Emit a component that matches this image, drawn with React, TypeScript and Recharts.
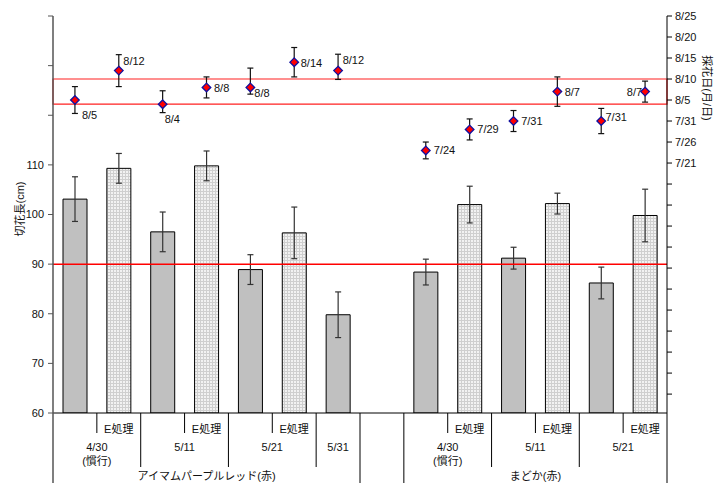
import React from 'react';
import {
  ComposedChart,
  Bar,
  Cell,
  Line,
  XAxis,
  YAxis,
  ErrorBar,
  ReferenceLine,
  ReferenceArea,
  LabelList
} from 'recharts';

// 14 slots on the category axis (slot 7 is the blank gap between varieties)
const slotKeys = ['a1', 'a2', 'a3', 'a4', 'a5', 'a6', 'a7', 'gap', 'b1', 'b2', 'b3', 'b4', 'b5', 'b6'];
const treatments = ['', 'E処理', '', 'E処理', '', 'E処理', '', '', '', 'E処理', '', 'E処理', '', 'E処理'];

const dateGroups = [
  { label: '4/30', note: '(慣行)', start: 0, span: 2 },
  { label: '5/11', note: '', start: 2, span: 2 },
  { label: '5/21', note: '', start: 4, span: 2 },
  { label: '5/31', note: '', start: 6, span: 1 },
  { label: '4/30', note: '(慣行)', start: 8, span: 2 },
  { label: '5/11', note: '', start: 10, span: 2 },
  { label: '5/21', note: '', start: 12, span: 2 }
];
const varieties = [
  { label: 'アイマムパープルレッド(赤)', start: 0, span: 7 },
  { label: 'まどか(赤)', start: 8, span: 6 }
];

// 切花長 (cm) and its error
const cutLength = [103.1, 109.3, 96.5, 109.8, 88.9, 96.3, 79.8, null, 88.4, 102.0, 91.2, 102.2, 86.2, 99.8];
const cutLengthErr = [4.5, 3.0, 4.0, 3.0, 3.0, 5.2, 4.6, null, 2.6, 3.7, 2.2, 2.1, 3.2, 5.3];

// 採花日 and its error in days [earlier, later]
const harvestDates = ['8/5', '8/12', '8/4', '8/8', '8/8', '8/14', '8/12', null, '7/24', '7/29', '7/31', '8/7', '7/31', '8/7'];
const harvestErr = [
  [3.2, 3.2], [3.8, 3.8], [2.0, 3.2], [2.5, 2.5], [1.6, 4.6], [3.5, 3.5], [2.1, 3.9], null,
  [2.0, 2.0], [2.5, 2.5], [2.5, 2.5], [3.5, 3.5], [3.0, 3.0], [2.5, 2.5]
];

const rightTicks = ['5/27', '6/1', '6/6', '6/11', '6/16', '6/21', '6/26', '7/1', '7/6', '7/11', '7/16', '7/21', '7/26', '7/31', '8/5', '8/10', '8/15', '8/20', '8/25'];
const rightMin = '5/22';
const firstShownDate = '7/21';
const targetLength = 90;
const targetRange = ['8/4', '8/10'];

// layout only
const labelOffsets = [
  [7, 15], [4.5, -10], [2, 14.6], [7.5, 1], [4, 6], [6.5, 0.6], [4.6, -10.7], [0, 0],
  [8, 0], [7.7, 0], [7.7, 0], [7.3, 0.6], [4.3, -4], [-3, 0]
];
const dividerLen = [75, 20, 54, 20, 54, 20, 54, 75, 75, 20, 54, 20, 54, 20, 75];

const monthStart = [0, 0, 31, 59, 90, 120, 151, 181, 212, 243, 273, 304, 334];
const toDay = (s: string) => {
  const [m, d] = s.split('/').map(Number);
  return monthStart[m] + d;
};
const fromDay = (n: number) => {
  let m = 12;
  while (monthStart[m] >= n) m--;
  return `${m}/${Math.round(n - monthStart[m])}`;
};

const data = slotKeys.map((k, i) => ({
  slot: k,
  length: cutLength[i],
  lengthErr: cutLengthErr[i],
  harvest: harvestDates[i] ? toDay(harvestDates[i] as string) : null,
  harvestErr: harvestErr[i],
  harvestLabel: harvestDates[i] ?? ''
}));

const FONT = '"Liberation Sans", Arial, "Noto Sans CJK JP", sans-serif';
const TXT = '#111';

const CategoryTick = (props: any) => {
  const { x, y, payload } = props;
  const i: number = props.index ?? payload.index;
  const half: number = payload.offset ?? 21.93;
  const left = x - half;
  const items: React.ReactNode[] = [];
  items.push(
    <line key="d" x1={left} x2={left} y1={y} y2={y + dividerLen[i]} stroke={i === 0 ? '#555' : '#000'} strokeWidth={i === 0 ? 1.5 : 1} />
  );
  if (i === slotKeys.length - 1) {
    items.push(<line key="dr" x1={x + half} x2={x + half} y1={y} y2={y + dividerLen[i + 1]} stroke="#000" />);
  }
  if (treatments[i]) {
    items.push(<text key="t" x={x} y={y + 16} textAnchor="middle" dominantBaseline="central" fontSize={11}>{treatments[i]}</text>);
  }
  dateGroups.filter(g => g.start === i).forEach((g, j) => {
    const cx = left + g.span * half;
    items.push(<text key={'g' + j} x={cx} y={y + 34} textAnchor="middle" dominantBaseline="central" fontSize={11}>{g.label}</text>);
    if (g.note) {
      items.push(<text key={'n' + j} x={cx} y={y + 48} textAnchor="middle" dominantBaseline="central" fontSize={11}>{g.note}</text>);
    }
  });
  varieties.filter(v => v.start === i).forEach((v, j) => {
    items.push(<text key={'v' + j} x={left + v.span * half} y={y + 63} textAnchor="middle" dominantBaseline="central" fontSize={11}>{v.label}</text>);
  });
  return <g fill={TXT} fontFamily={FONT}>{items}</g>;
};

const Diamond = (props: any) => {
  const { cx, cy, index } = props;
  if (cx == null || cy == null || data[index]?.harvest == null) return <g key={'dot' + index} />;
  const r = 4.3;
  return (
    <path
      key={'dot' + index}
      d={`M${cx},${cy - r}L${cx + r},${cy}L${cx},${cy + r}L${cx - r},${cy}Z`}
      fill="#ff0000"
      stroke="#1010a0"
      strokeWidth={1.3}
    />
  );
};

const DateLabel = (props: any) => {
  const { x, y, value, index } = props;
  if (!value || x == null || y == null) return null;
  const [dx, dy] = labelOffsets[index];
  return (
    <text
      x={x + dx}
      y={y + dy}
      textAnchor={dx < 0 ? 'end' : 'start'}
      dominantBaseline="central"
      fontSize={11}
      fontFamily={FONT}
      fill={TXT}
    >
      {value}
    </text>
  );
};

const App: React.FC = () => {
  const rTicks = rightTicks.map(toDay);
  const shownFrom = toDay(firstShownDate);
  return (
    <div style={{ position: 'absolute', left: 0, top: 0, width: 723, height: 483, background: '#fff' }}>
      <ComposedChart
        width={723}
        height={483}
        data={data}
        margin={{ top: 16, right: 0, bottom: 0, left: 0 }}
        barCategoryGap={10}
      >
        <defs>
          <pattern id="dots" width="3" height="3" patternUnits="userSpaceOnUse">
            <rect width="3" height="3" fill="#cfcfcf" />
            <rect width="2" height="2" fill="#f2f2f2" />
          </pattern>
        </defs>
        <XAxis
          dataKey="slot"
          type="category"
          interval={0}
          height={70}
          tickSize={0}
          tickMargin={0}
          tickLine={false}
          axisLine={{ stroke: '#000' }}
          tick={<CategoryTick />}
        />
        <YAxis
          yAxisId="left"
          type="number"
          domain={[60, 140]}
          ticks={[60, 70, 80, 90, 100, 110, 120, 130, 140]}
          width={53}
          tickSize={5}
          tickMargin={4}
          allowDataOverflow
          axisLine={{ stroke: '#555', strokeWidth: 1.5 }}
          tickLine={{ stroke: '#555' }}
          tick={{ fontSize: 11, fill: TXT, fontFamily: FONT }}
          tickFormatter={(v: number) => (v <= 110 ? String(v) : '')}
          label={() => (
            <text
              x={20}
              y={209}
              transform="rotate(-90 20 209)"
              textAnchor="middle"
              dominantBaseline="central"
              fontSize={11}
              fontFamily={FONT}
              style={{ fill: TXT }}
            >
              切花長(cm)
            </text>
          )}
        />
        <YAxis
          yAxisId="right"
          orientation="right"
          type="number"
          domain={[toDay(rightMin) + 0.5, toDay('8/25')]}
          ticks={rTicks}
          width={56}
          tickSize={5}
          tickMargin={3}
          allowDataOverflow
          axisLine={{ stroke: '#000' }}
          tickLine={{ stroke: '#000' }}
          tick={{ fontSize: 11, fill: TXT, fontFamily: FONT, textAnchor: 'start' }}
          tickFormatter={(v: number) => (v >= shownFrom ? fromDay(v) : '')}
          label={() => (
            <text
              x={707}
              y={88}
              transform="rotate(90 707 88)"
              textAnchor="middle"
              dominantBaseline="central"
              fontSize={11}
              fontFamily={FONT}
              style={{ fill: TXT }}
            >
              採花日(月/日)
            </text>
          )}
        />
        <Bar yAxisId="left" dataKey="length" stroke="#000" strokeWidth={1} isAnimationActive={false}>
          {data.map((d, i) => (
            <Cell key={d.slot} fill={treatments[i] ? 'url(#dots)' : '#c0c0c0'} />
          ))}
          <ErrorBar dataKey="lengthErr" width={3} stroke="#333" strokeWidth={1.2} />
        </Bar>
        <ReferenceLine yAxisId="left" y={targetLength} stroke="#ff0000" strokeWidth={1.5} />
        <ReferenceArea
          yAxisId="right"
          y1={toDay(targetRange[0])}
          y2={toDay(targetRange[1])}
          stroke="#ff2020"
          strokeWidth={1.2}
          fill="none"
          fillOpacity={0}
        />
        <Line
          yAxisId="right"
          dataKey="harvest"
          stroke="none"
          dot={<Diamond />}
          activeDot={false}
          isAnimationActive={false}
        >
          <ErrorBar dataKey="harvestErr" width={3} stroke="#111" strokeWidth={1.2} />
          <LabelList dataKey="harvestLabel" content={<DateLabel />} />
        </Line>
      </ComposedChart>
    </div>
  );
};

export default App;
